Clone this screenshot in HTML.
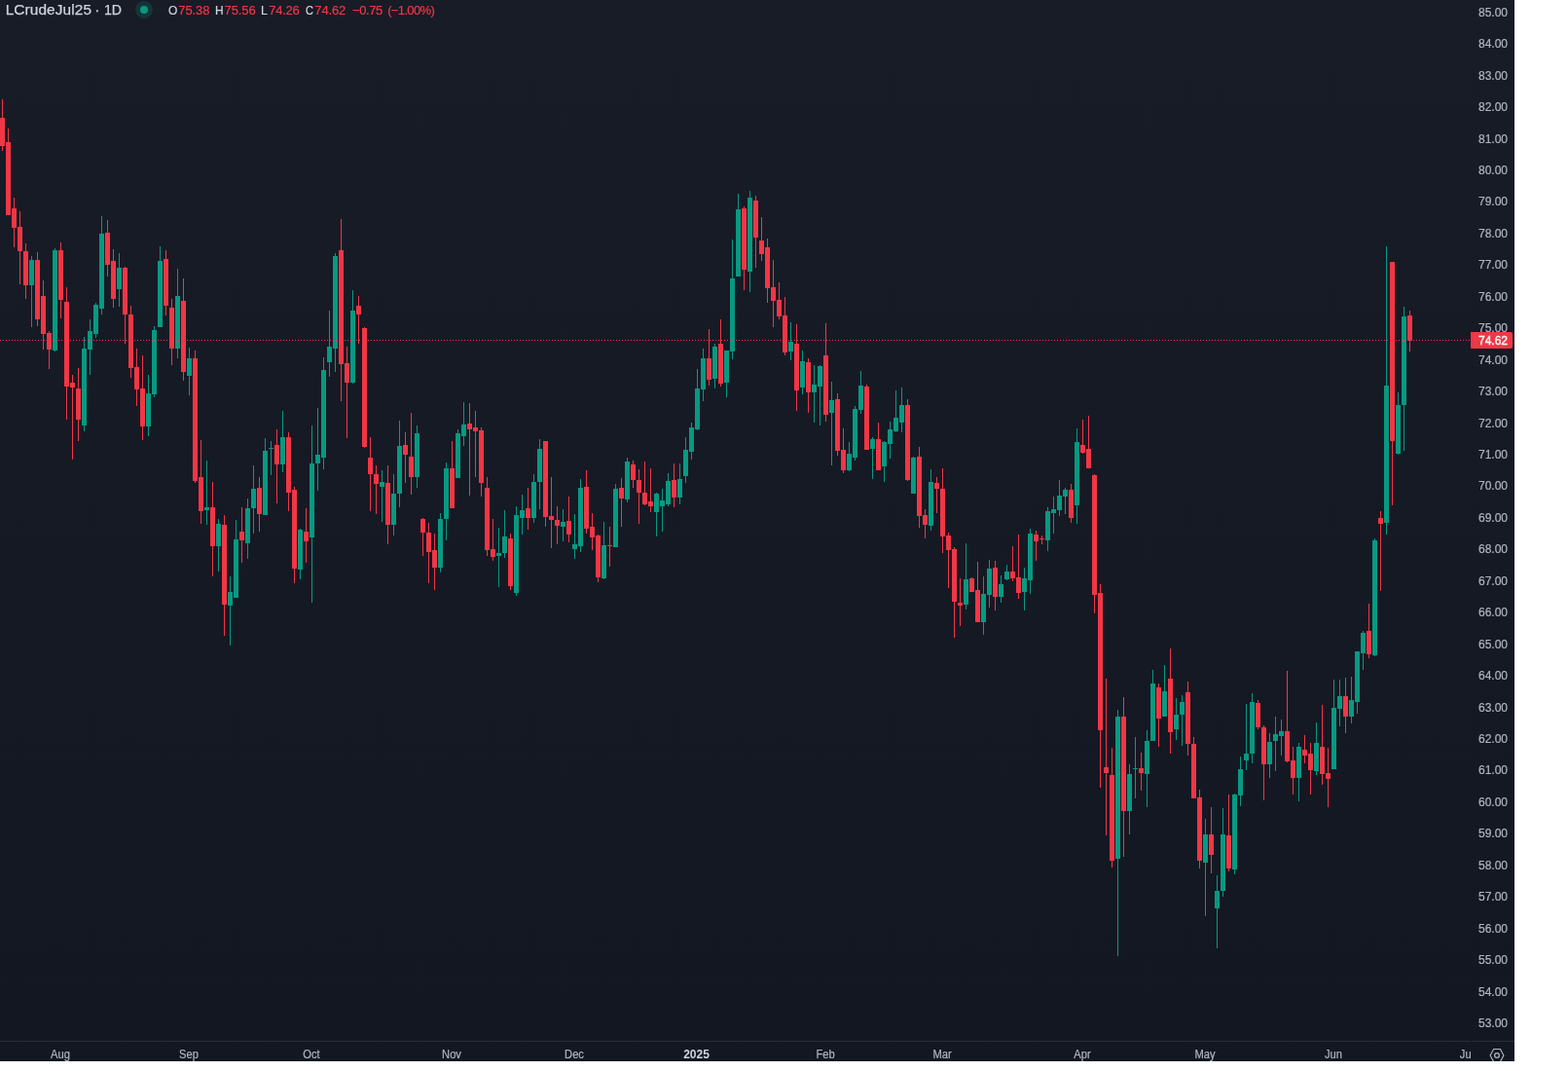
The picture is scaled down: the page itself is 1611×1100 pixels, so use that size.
<!DOCTYPE html>
<html><head><meta charset="utf-8"><title>LCrudeJul25 1D</title>
<style>
html,body{margin:0;padding:0;background:#fff;}
body{width:1611px;height:1100px;overflow:hidden;position:relative;font-family:"Liberation Sans",sans-serif;}
#chart{position:absolute;left:0;top:0;width:1556px;height:1090px;background:linear-gradient(180deg,#181c27 0%,#131722 100%);overflow:hidden;}
#chart svg{position:absolute;left:0;top:0;}
.pl{position:absolute;left:1500px;width:49px;letter-spacing:0px;-webkit-text-stroke:0.2px #b2b5be;text-align:right;height:14px;line-height:14px;font-size:12px;color:#b2b5be;white-space:nowrap;}
#pane{position:absolute;left:0;top:0;width:1511px;height:1090px;overflow:hidden;}
.tl{position:absolute;top:1076px;transform:scaleX(0.93);-webkit-text-stroke:0.2px #b2b5be;width:60px;text-align:center;height:14px;line-height:14px;font-size:12px;color:#b2b5be;white-space:nowrap;}
.tl.b{font-weight:bold;color:#d1d4dc;transform:scaleX(1.0);-webkit-text-stroke:0;}
#last{position:absolute;left:1511px;top:341px;width:43px;height:17px;background:#f23645;border-radius:0 2px 2px 0;color:#fff;font-size:12px;line-height:17px;}
#last span{position:absolute;right:5px;top:1px;letter-spacing:0;-webkit-text-stroke:0.35px #fff;}
.lg{position:absolute;white-space:nowrap;line-height:20px;height:20px;top:0px;}
.t{font-size:15.4px;color:#d1d4dc;top:0px;-webkit-text-stroke:0.25px #d1d4dc;}
.lg{transform-origin:0 50%;}
.v{font-size:13px;color:#f23645;top:1px;-webkit-text-stroke:0.2px #f23645;}
.k{font-size:13px;color:#d1d4dc;top:1px;-webkit-text-stroke:0.2px #d1d4dc;}
</style></head><body>
<div id="chart">
<svg width="1556" height="1090" viewBox="0 0 1556 1090" shape-rendering="crispEdges">
<path fill="#089981" d="M32 263h1v73h-1zM56 255h1v106h-1zM86 346h1v97h-1zM92 328h1v57h-1zM98 311h1v36h-1zM104 222h1v101h-1zM122 260h1v55h-1zM152 385h1v63h-1zM158 335h1v73h-1zM164 253h1v83h-1zM182 276h1v92h-1zM194 357h1v49h-1zM212 473h1v66h-1zM224 533h1v54h-1zM236 592h1v71h-1zM242 534h1v80h-1zM254 512h1v62h-1zM260 478h1v70h-1zM272 450h1v79h-1zM278 453h1v35h-1zM290 422h1v63h-1zM308 543h1v52h-1zM320 437h1v182h-1zM326 419h1v85h-1zM332 367h1v115h-1zM338 319h1v68h-1zM344 260h1v122h-1zM362 298h1v96h-1zM392 483h1v53h-1zM404 487h1v63h-1zM410 432h1v89h-1zM428 437h1v64h-1zM452 527h1v61h-1zM458 475h1v80h-1zM470 441h1v50h-1zM476 413h1v45h-1zM512 542h1v61h-1zM518 524h1v49h-1zM530 520h1v92h-1zM536 508h1v41h-1zM548 487h1v50h-1zM554 451h1v72h-1zM578 523h1v33h-1zM590 528h1v46h-1zM596 492h1v75h-1zM620 536h1v59h-1zM632 497h1v65h-1zM644 470h1v46h-1zM674 506h1v45h-1zM680 502h1v44h-1zM686 486h1v34h-1zM698 476h1v42h-1zM704 449h1v47h-1zM710 434h1v38h-1zM716 379h1v63h-1zM722 358h1v54h-1zM734 353h1v46h-1zM746 360h1v48h-1zM752 246h1v123h-1zM758 199h1v85h-1zM770 196h1v104h-1zM812 331h1v39h-1zM824 360h1v45h-1zM836 375h1v59h-1zM842 375h1v62h-1zM854 392h1v86h-1zM872 454h1v30h-1zM878 417h1v56h-1zM884 381h1v44h-1zM896 449h1v43h-1zM908 453h1v42h-1zM914 433h1v38h-1zM920 401h1v43h-1zM926 398h1v46h-1zM938 469h1v38h-1zM956 482h1v63h-1zM992 558h1v68h-1zM1010 592h1v60h-1zM1016 575h1v49h-1zM1028 591h1v28h-1zM1034 580h1v16h-1zM1052 583h1v44h-1zM1058 543h1v67h-1zM1076 521h1v45h-1zM1082 510h1v38h-1zM1088 493h1v37h-1zM1094 501h1v27h-1zM1106 440h1v98h-1zM1148 729h1v253h-1zM1160 785h1v72h-1zM1166 757h1v63h-1zM1178 750h1v79h-1zM1184 688h1v73h-1zM1196 683h1v53h-1zM1208 717h1v43h-1zM1214 714h1v52h-1zM1238 841h1v100h-1zM1250 899h1v75h-1zM1256 830h1v91h-1zM1268 815h1v83h-1zM1274 777h1v51h-1zM1280 723h1v68h-1zM1286 712h1v72h-1zM1304 753h1v46h-1zM1310 736h1v56h-1zM1316 739h1v37h-1zM1334 763h1v60h-1zM1352 742h1v54h-1zM1370 698h1v92h-1zM1376 698h1v48h-1zM1388 695h1v48h-1zM1394 669h1v64h-1zM1400 648h1v40h-1zM1412 553h1v121h-1zM1424 253h1v296h-1zM1436 403h1v64h-1zM1442 315h1v148h-1zM30 267h5v26h-5zM54 257h5v103h-5zM84 358h5v79h-5zM90 340h5v19h-5zM96 313h5v30h-5zM102 240h5v77h-5zM120 275h5v22h-5zM150 404h5v34h-5zM156 339h5v66h-5zM162 268h5v68h-5zM180 304h5v54h-5zM192 368h5v18h-5zM210 521h5v3h-5zM222 538h5v23h-5zM234 608h5v14h-5zM240 554h5v60h-5zM252 522h5v36h-5zM258 502h5v20h-5zM270 463h5v66h-5zM276 460h5v1h-5zM288 449h5v28h-5zM306 544h5v41h-5zM318 476h5v76h-5zM324 467h5v9h-5zM330 380h5v90h-5zM336 356h5v16h-5zM342 263h5v95h-5zM360 319h5v74h-5zM390 495h5v5h-5zM402 507h5v32h-5zM408 458h5v49h-5zM426 445h5v45h-5zM450 533h5v50h-5zM456 481h5v52h-5zM468 445h5v46h-5zM474 436h5v12h-5zM510 568h5v3h-5zM516 551h5v17h-5zM528 529h5v80h-5zM534 524h5v8h-5zM546 495h5v37h-5zM552 461h5v34h-5zM576 536h5v5h-5zM588 559h5v5h-5zM594 501h5v60h-5zM618 560h5v34h-5zM630 502h5v60h-5zM642 474h5v39h-5zM672 507h5v19h-5zM678 514h5v6h-5zM684 494h5v24h-5zM696 492h5v19h-5zM702 462h5v27h-5zM708 439h5v25h-5zM714 399h5v42h-5zM720 368h5v32h-5zM732 356h5v33h-5zM744 360h5v33h-5zM750 286h5v75h-5zM756 215h5v69h-5zM768 203h5v76h-5zM810 351h5v10h-5zM822 371h5v27h-5zM834 395h5v8h-5zM840 376h5v21h-5zM852 411h5v13h-5zM870 466h5v17h-5zM876 420h5v50h-5zM882 396h5v25h-5zM894 451h5v10h-5zM906 454h5v25h-5zM912 441h5v15h-5zM918 429h5v14h-5zM924 416h5v18h-5zM936 470h5v37h-5zM954 495h5v45h-5zM990 595h5v26h-5zM1008 610h5v29h-5zM1014 584h5v27h-5zM1026 600h5v13h-5zM1032 587h5v8h-5zM1050 594h5v14h-5zM1056 548h5v48h-5zM1074 525h5v30h-5zM1080 523h5v4h-5zM1086 509h5v15h-5zM1092 503h5v7h-5zM1104 454h5v65h-5zM1146 736h5v146h-5zM1158 795h5v38h-5zM1164 789h5v1h-5zM1176 761h5v34h-5zM1182 702h5v59h-5zM1194 710h5v26h-5zM1206 734h5v15h-5zM1212 721h5v13h-5zM1236 857h5v29h-5zM1248 915h5v18h-5zM1254 857h5v58h-5zM1266 816h5v77h-5zM1272 790h5v27h-5zM1278 774h5v7h-5zM1284 721h5v53h-5zM1302 762h5v23h-5zM1308 754h5v7h-5zM1314 751h5v5h-5zM1332 767h5v32h-5zM1350 763h5v29h-5zM1368 727h5v63h-5zM1374 715h5v13h-5zM1386 719h5v17h-5zM1392 669h5v52h-5zM1398 650h5v21h-5zM1410 555h5v118h-5zM1422 396h5v141h-5zM1434 416h5v50h-5zM1440 325h5v91h-5z"/>
<path fill="#f23645" d="M2 102h1v53h-1zM8 132h1v89h-1zM14 203h1v51h-1zM20 217h1v75h-1zM26 250h1v57h-1zM38 259h1v76h-1zM44 288h1v71h-1zM50 340h1v39h-1zM62 249h1v78h-1zM68 295h1v136h-1zM74 385h1v87h-1zM80 378h1v75h-1zM110 226h1v58h-1zM116 256h1v60h-1zM128 274h1v79h-1zM134 314h1v74h-1zM140 358h1v59h-1zM146 365h1v87h-1zM170 257h1v67h-1zM176 307h1v68h-1zM188 286h1v105h-1zM200 360h1v136h-1zM206 452h1v86h-1zM218 495h1v97h-1zM230 529h1v124h-1zM248 521h1v57h-1zM266 490h1v56h-1zM284 441h1v76h-1zM296 444h1v81h-1zM302 500h1v99h-1zM314 522h1v56h-1zM350 225h1v187h-1zM356 356h1v94h-1zM368 304h1v49h-1zM374 336h1v124h-1zM380 449h1v76h-1zM386 478h1v50h-1zM398 478h1v81h-1zM416 444h1v52h-1zM422 424h1v84h-1zM434 532h1v39h-1zM440 537h1v62h-1zM446 548h1v58h-1zM464 453h1v69h-1zM482 414h1v95h-1zM488 422h1v68h-1zM494 439h1v71h-1zM500 490h1v81h-1zM506 533h1v43h-1zM524 548h1v58h-1zM542 501h1v43h-1zM560 453h1v88h-1zM566 490h1v73h-1zM572 520h1v39h-1zM584 510h1v47h-1zM602 483h1v65h-1zM608 527h1v38h-1zM614 549h1v49h-1zM626 541h1v41h-1zM638 491h1v50h-1zM650 473h1v28h-1zM656 482h1v56h-1zM662 474h1v45h-1zM668 481h1v45h-1zM692 476h1v45h-1zM728 338h1v58h-1zM740 328h1v69h-1zM764 212h1v86h-1zM776 201h1v74h-1zM782 223h1v45h-1zM788 245h1v66h-1zM794 267h1v69h-1zM800 290h1v38h-1zM806 305h1v60h-1zM818 333h1v89h-1zM830 368h1v56h-1zM848 332h1v101h-1zM860 404h1v64h-1zM866 440h1v46h-1zM890 395h1v67h-1zM902 434h1v49h-1zM932 410h1v84h-1zM944 459h1v83h-1zM950 523h1v30h-1zM962 490h1v37h-1zM968 481h1v87h-1zM974 547h1v57h-1zM980 562h1v93h-1zM986 594h1v49h-1zM998 593h1v15h-1zM1004 577h1v62h-1zM1022 576h1v51h-1zM1040 561h1v36h-1zM1046 549h1v66h-1zM1064 545h1v31h-1zM1070 550h1v9h-1zM1100 497h1v40h-1zM1112 431h1v35h-1zM1118 427h1v54h-1zM1124 487h1v143h-1zM1130 600h1v209h-1zM1136 697h1v161h-1zM1142 768h1v123h-1zM1154 716h1v164h-1zM1172 773h1v39h-1zM1190 702h1v65h-1zM1202 666h1v108h-1zM1220 700h1v76h-1zM1226 757h1v63h-1zM1232 811h1v81h-1zM1244 829h1v68h-1zM1262 816h1v79h-1zM1292 719h1v30h-1zM1298 745h1v77h-1zM1322 689h1v94h-1zM1328 767h1v49h-1zM1340 755h1v29h-1zM1346 763h1v53h-1zM1358 724h1v82h-1zM1364 768h1v61h-1zM1382 696h1v57h-1zM1406 620h1v56h-1zM1418 525h1v82h-1zM1430 269h1v250h-1zM1448 319h1v42h-1zM0 121h5v29h-5zM6 146h5v75h-5zM12 214h5v20h-5zM18 233h5v25h-5zM24 258h5v35h-5zM36 267h5v61h-5zM42 304h5v39h-5zM48 342h5v17h-5zM60 257h5v51h-5zM66 310h5v87h-5zM72 393h5v5h-5zM78 399h5v32h-5zM108 239h5v33h-5zM114 268h5v39h-5zM126 275h5v48h-5zM132 323h5v55h-5zM138 377h5v23h-5zM144 399h5v39h-5zM168 266h5v48h-5zM174 316h5v42h-5zM186 309h5v73h-5zM198 368h5v126h-5zM204 490h5v35h-5zM216 521h5v40h-5zM228 539h5v82h-5zM246 546h5v9h-5zM264 501h5v27h-5zM282 457h5v20h-5zM294 449h5v57h-5zM300 503h5v81h-5zM312 546h5v10h-5zM348 257h5v117h-5zM354 373h5v20h-5zM366 314h5v9h-5zM372 337h5v122h-5zM378 470h5v17h-5zM384 487h5v10h-5zM396 496h5v43h-5zM414 457h5v10h-5zM420 469h5v21h-5zM432 533h5v14h-5zM438 547h5v20h-5zM444 565h5v18h-5zM462 481h5v41h-5zM480 435h5v6h-5zM486 439h5v4h-5zM492 442h5v54h-5zM498 501h5v64h-5zM504 564h5v8h-5zM522 553h5v49h-5zM540 522h5v10h-5zM558 453h5v78h-5zM564 530h5v4h-5zM570 534h5v6h-5zM582 535h5v14h-5zM600 500h5v43h-5zM606 541h5v11h-5zM612 550h5v43h-5zM624 560h5v1h-5zM636 501h5v11h-5zM648 477h5v16h-5zM654 493h5v13h-5zM660 506h5v12h-5zM666 515h5v5h-5zM690 493h5v18h-5zM726 368h5v22h-5zM738 353h5v41h-5zM762 214h5v63h-5zM774 206h5v38h-5zM780 247h5v14h-5zM786 254h5v42h-5zM792 295h5v14h-5zM798 308h5v17h-5zM804 324h5v38h-5zM816 353h5v48h-5zM828 372h5v31h-5zM846 365h5v61h-5zM858 410h5v53h-5zM864 462h5v21h-5zM888 397h5v65h-5zM900 451h5v32h-5zM930 416h5v77h-5zM942 469h5v61h-5zM948 529h5v10h-5zM960 496h5v6h-5zM966 502h5v49h-5zM972 550h5v15h-5zM978 564h5v54h-5zM984 619h5v3h-5zM996 594h5v14h-5zM1002 606h5v33h-5zM1020 583h5v30h-5zM1038 587h5v7h-5zM1044 593h5v16h-5zM1062 549h5v7h-5zM1068 553h5v1h-5zM1098 503h5v29h-5zM1110 457h5v8h-5zM1116 461h5v20h-5zM1122 488h5v123h-5zM1128 609h5v141h-5zM1134 788h5v6h-5zM1140 796h5v88h-5zM1152 736h5v97h-5zM1170 789h5v5h-5zM1188 706h5v32h-5zM1200 697h5v55h-5zM1218 711h5v53h-5zM1224 764h5v56h-5zM1230 819h5v65h-5zM1242 857h5v21h-5zM1260 858h5v34h-5zM1290 722h5v25h-5zM1296 747h5v38h-5zM1320 751h5v31h-5zM1326 781h5v18h-5zM1338 770h5v6h-5zM1344 774h5v17h-5zM1356 767h5v28h-5zM1362 794h5v6h-5zM1380 715h5v21h-5zM1404 648h5v24h-5zM1416 532h5v6h-5zM1428 269h5v184h-5zM1446 324h5v26h-5z"/>
<line x1="0" y1="349.5" x2="1511" y2="349.5" stroke="#f23645" stroke-width="1" stroke-dasharray="1 2"/>
<path fill="#2a2e39" d="M0 1069h1511v1h-1511zM1512 1069h44v1h-44z"/>
<g shape-rendering="geometricPrecision">
<circle cx="148" cy="10" r="9" fill="#089981" fill-opacity="0.2"/>
<circle cx="148" cy="10" r="4" fill="#089981"/>
<path d="M1534.6 1077.5h6.8l3.5 6.5l-3.5 6.5h-6.8l-3.5-6.5z" fill="none" stroke="#b2b5be" stroke-width="1.15"/>
<circle cx="1538" cy="1084" r="2.4" fill="none" stroke="#b2b5be" stroke-width="1.3"/>
</g>
</svg>
<div class="pl" style="top:6px">85.00</div>
<div class="pl" style="top:38px">84.00</div>
<div class="pl" style="top:71px">83.00</div>
<div class="pl" style="top:103px">82.00</div>
<div class="pl" style="top:136px">81.00</div>
<div class="pl" style="top:168px">80.00</div>
<div class="pl" style="top:200px">79.00</div>
<div class="pl" style="top:233px">78.00</div>
<div class="pl" style="top:265px">77.00</div>
<div class="pl" style="top:298px">76.00</div>
<div class="pl" style="top:330px">75.00</div>
<div class="pl" style="top:363px">74.00</div>
<div class="pl" style="top:395px">73.00</div>
<div class="pl" style="top:428px">72.00</div>
<div class="pl" style="top:460px">71.00</div>
<div class="pl" style="top:492px">70.00</div>
<div class="pl" style="top:525px">69.00</div>
<div class="pl" style="top:557px">68.00</div>
<div class="pl" style="top:590px">67.00</div>
<div class="pl" style="top:622px">66.00</div>
<div class="pl" style="top:655px">65.00</div>
<div class="pl" style="top:687px">64.00</div>
<div class="pl" style="top:720px">63.00</div>
<div class="pl" style="top:752px">62.00</div>
<div class="pl" style="top:784px">61.00</div>
<div class="pl" style="top:817px">60.00</div>
<div class="pl" style="top:849px">59.00</div>
<div class="pl" style="top:882px">58.00</div>
<div class="pl" style="top:914px">57.00</div>
<div class="pl" style="top:947px">56.00</div>
<div class="pl" style="top:979px">55.00</div>
<div class="pl" style="top:1012px">54.00</div>
<div class="pl" style="top:1044px">53.00</div>

<div id="pane">
<div class="tl" style="left:31.5px">Aug</div>
<div class="tl" style="left:163.5px">Sep</div>
<div class="tl" style="left:289.5px">Oct</div>
<div class="tl" style="left:433.5px">Nov</div>
<div class="tl" style="left:559.5px">Dec</div>
<div class="tl b" style="left:685.5px">2025</div>
<div class="tl" style="left:817.5px">Feb</div>
<div class="tl" style="left:937.5px">Mar</div>
<div class="tl" style="left:1081.5px">Apr</div>
<div class="tl" style="left:1207.5px">May</div>
<div class="tl" style="left:1339.5px">Jun</div>
<div class="tl" style="left:1476.5px">Jul</div>

</div>
<div id="last"><span>74.62</span></div>
<span class="lg t" style="left:5.70px;letter-spacing:0.100px;">LCrudeJul25</span>
<span class="lg t" style="left:97.30px;">·</span>
<span class="lg t" style="left:106.60px;transform:scaleX(0.9200);">1D</span>
<span class="lg k" style="left:172.50px;transform:scaleX(0.9200);">O</span>
<span class="lg v" style="left:183.30px;letter-spacing:-0.100px;">75.38</span>
<span class="lg k" style="left:220.60px;transform:scaleX(0.9200);">H</span>
<span class="lg v" style="left:230.60px;letter-spacing:-0.100px;">75.56</span>
<span class="lg k" style="left:268.00px;transform:scaleX(0.9500);">L</span>
<span class="lg v" style="left:276.30px;letter-spacing:-0.300px;">74.26</span>
<span class="lg k" style="left:314.00px;transform:scaleX(0.8500);">C</span>
<span class="lg v" style="left:323.30px;letter-spacing:-0.150px;">74.62</span>
<span class="lg v" style="left:362.00px;letter-spacing:-0.400px;">−0.75</span>
<span class="lg v" style="left:398.20px;letter-spacing:-0.650px;">(−1.00%)</span>

</div>
</body></html>
